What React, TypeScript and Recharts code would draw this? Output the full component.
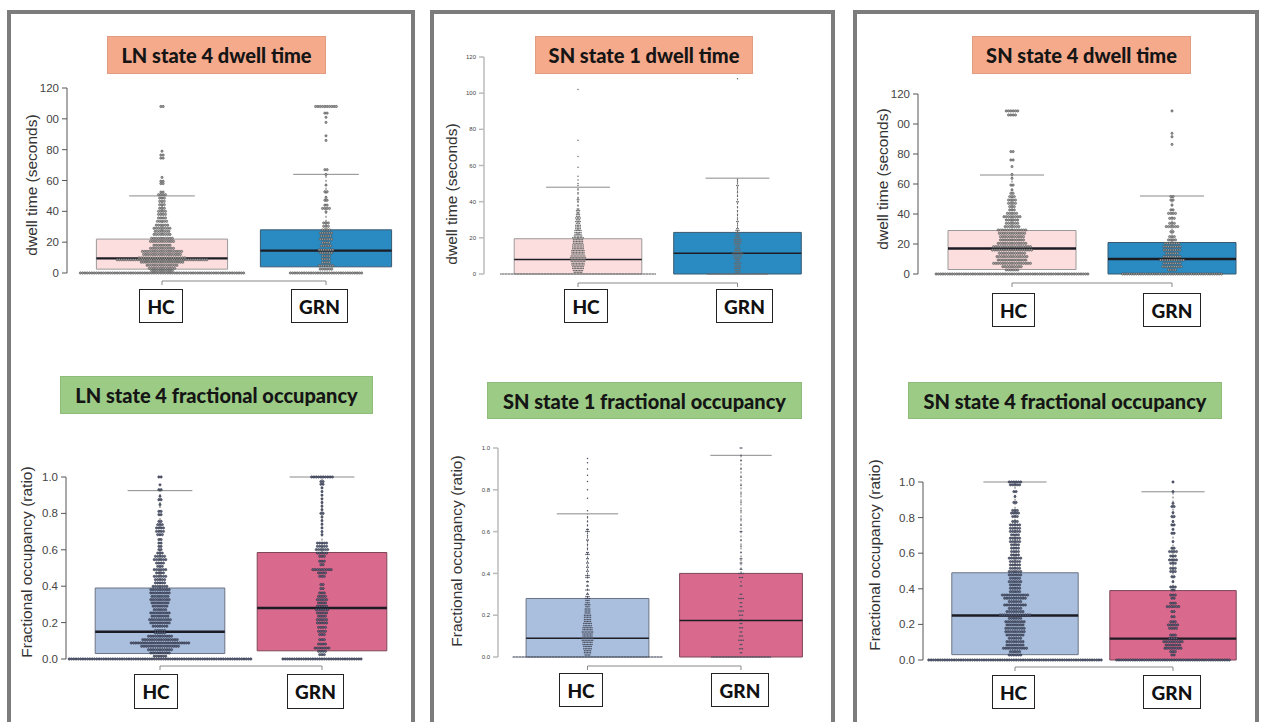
import React from 'react';
import { ComposedChart, Scatter, XAxis, YAxis, ReferenceArea, ReferenceLine } from 'recharts';

type Row = [number, number]; // [value, number of subjects at that value]

// ---------------- categories & ticks ----------------
const groups = ['HC', 'GRN'];
const dwellTicks = [0, 20, 40, 60, 80, 100, 120];
const dwellTickLabelsClipped = ['0', '20', '40', '60', '80', '00', '120'];
const dwellTickLabelsFull = ['0', '20', '40', '60', '80', '100', '120'];
const foTicks = [0, 0.2, 0.4, 0.6, 0.8, 1.0];
const foTickLabels = ['0.0', '0.2', '0.4', '0.6', '0.8', '1.0'];

// ---------------- box statistics: [q1, median, q3, upper whisker] ----------------
const lnDwellBoxHC = [2.5, 9.5, 22, 50];
const lnDwellBoxGRN = [4, 14.5, 28, 64];
const lnFoBoxHC = [0.03, 0.15, 0.39, 0.925];
const lnFoBoxGRN = [0.045, 0.28, 0.585, 1.0];
const sn1DwellBoxHC = [0, 8, 19.5, 48];
const sn1DwellBoxGRN = [0, 11.5, 23, 53];
const sn1FoBoxHC = [0, 0.09, 0.28, 0.685];
const sn1FoBoxGRN = [0, 0.175, 0.4, 0.965];
const sn4DwellBoxHC = [3, 17, 29, 66];
const sn4DwellBoxGRN = [0, 10, 21, 52];
const sn4FoBoxHC = [0.03, 0.25, 0.49, 1.0];
const sn4FoBoxGRN = [0, 0.12, 0.39, 0.945];

// ---------------- observations (value, count) ----------------
const lnDwellHC: Row[] = [
  [0, 72], [1.5, 10], [3, 12], [5, 14], [7, 19], [8.6, 40], [9.8, 21], [12, 17], [14, 18], [16, 11],
  [18, 8], [20.5, 11], [22.5, 10], [25, 8], [27, 7], [29, 8], [31, 6], [33.5, 5], [35.7, 4], [38, 4],
  [40, 4], [42, 3], [44.3, 3], [46.5, 3], [48.6, 3], [50.8, 4], [52.5, 2], [58, 2], [59.5, 2], [62, 1],
  [74.5, 2], [76.5, 2], [79, 1], [108, 2],
];
const lnDwellGRN: Row[] = [
  [0, 32], [2.5, 6], [4.7, 7], [6.8, 4], [9, 4], [11, 4], [13, 6], [15, 7], [17.6, 5], [19.7, 4],
  [21.9, 6], [24, 5], [26, 6], [28, 4], [30.3, 3], [32.5, 3], [39.7, 1], [41.9, 4], [44, 2], [47.2, 2],
  [49, 1], [52.7, 2], [57, 1], [63.9, 1], [67, 2], [86, 1], [89, 1], [97.7, 1], [101, 1], [103.7, 2],
  [108, 10],
];
const lnFoHC: Row[] = [
  [0, 80], [0.015, 6], [0.033, 9], [0.051, 11], [0.07, 17], [0.088, 26], [0.106, 16], [0.125, 11],
  [0.143, 5], [0.156, 5], [0.18, 7], [0.198, 9], [0.216, 10], [0.235, 8], [0.253, 9], [0.271, 6],
  [0.29, 7], [0.308, 8], [0.326, 9], [0.344, 8], [0.363, 9], [0.381, 9], [0.399, 7], [0.418, 5],
  [0.436, 5], [0.454, 6], [0.473, 4], [0.491, 6], [0.509, 3], [0.527, 4], [0.546, 6], [0.564, 5],
  [0.582, 3], [0.601, 2], [0.619, 2], [0.637, 2], [0.656, 2], [0.683, 3], [0.701, 4], [0.72, 4],
  [0.738, 3], [0.756, 2], [0.793, 2], [0.811, 2], [0.848, 1], [0.875, 2], [0.894, 1], [0.93, 2],
  [0.957, 1], [1.0, 2],
];
const lnFoGRN: Row[] = [
  [0, 35], [0.024, 3], [0.042, 4], [0.06, 7], [0.082, 4], [0.106, 3], [0.134, 3], [0.152, 4],
  [0.174, 4], [0.198, 5], [0.216, 5], [0.235, 4], [0.253, 5], [0.271, 6], [0.29, 5], [0.308, 4],
  [0.326, 5], [0.344, 4], [0.363, 3], [0.387, 2], [0.409, 2], [0.454, 3], [0.473, 4], [0.491, 9],
  [0.518, 2], [0.537, 3], [0.564, 3], [0.582, 5], [0.601, 6], [0.619, 5], [0.637, 5], [0.683, 1],
  [0.7, 1], [0.72, 1], [0.74, 1], [0.76, 1], [0.78, 1], [0.8, 2], [0.82, 1], [0.84, 1], [0.86, 1],
  [0.88, 1], [0.9, 1], [0.92, 1], [0.94, 1], [0.96, 2], [0.975, 2], [1.0, 10],
];
const sn1DwellHC: Row[] = [
  [0, 104], [1, 6], [2, 7], [3, 8], [4, 8], [5, 9], [6, 9], [7, 10], [8, 10], [9, 11], [10, 10],
  [11, 9], [12, 9], [13, 9], [14, 8], [15, 8], [16, 8], [17, 7], [18, 7], [19, 7], [20, 8], [21, 6],
  [22, 5], [23, 5], [24, 5], [25, 4], [26, 4], [27, 4], [28, 3], [29, 4], [30, 3], [31, 4], [32, 3],
  [33, 3], [34, 2], [35, 3], [36, 2], [38, 1], [40, 1], [41, 2], [42, 1], [45, 1], [47, 1], [49, 1],
  [50, 1], [52, 1], [54, 1], [59, 1], [65, 1], [74, 1], [102, 1],
];
const sn1DwellGRN: Row[] = [
  [0, 41], [1, 3], [2, 4], [3, 4], [4, 5], [5, 4], [6, 5], [7, 3], [8, 4], [9, 5], [10, 6], [11, 8],
  [12, 6], [13, 4], [14, 4], [15, 3], [16, 4], [17, 5], [18, 5], [19, 6], [20, 4], [21, 3], [22, 3],
  [23, 2], [24, 3], [25, 2], [27, 1], [29, 2], [31, 1], [33, 1], [35, 1], [37, 1], [40, 2], [43, 1],
  [45, 1], [47, 1], [49, 2], [51, 1], [52, 1], [108, 1],
];
const sn1FoHC: Row[] = [
  [0, 100], [0.01, 4], [0.02, 5], [0.03, 5], [0.04, 6], [0.05, 6], [0.06, 7], [0.07, 7], [0.08, 8],
  [0.09, 8], [0.1, 7], [0.11, 7], [0.12, 8], [0.13, 7], [0.14, 7], [0.15, 6], [0.16, 6], [0.17, 5],
  [0.18, 5], [0.19, 5], [0.2, 5], [0.21, 4], [0.22, 4], [0.23, 4], [0.24, 3], [0.25, 4], [0.26, 3],
  [0.27, 3], [0.28, 4], [0.29, 3], [0.3, 2], [0.32, 3], [0.34, 2], [0.36, 2], [0.38, 3], [0.39, 3],
  [0.41, 2], [0.43, 2], [0.45, 2], [0.47, 2], [0.49, 3], [0.5, 2], [0.52, 1], [0.54, 1], [0.56, 2],
  [0.58, 1], [0.6, 3], [0.61, 2], [0.63, 1], [0.65, 1], [0.67, 1], [0.7, 1], [0.76, 1], [0.8, 1],
  [0.84, 1], [0.87, 1], [0.9, 1], [0.93, 1], [0.95, 1],
];
const sn1FoGRN: Row[] = [
  [0, 40], [0.02, 2], [0.04, 3], [0.06, 2], [0.08, 4], [0.1, 3], [0.12, 2], [0.14, 3], [0.16, 2],
  [0.18, 2], [0.2, 3], [0.22, 4], [0.24, 2], [0.26, 2], [0.28, 4], [0.3, 2], [0.34, 2], [0.36, 1],
  [0.38, 3], [0.4, 4], [0.42, 2], [0.45, 2], [0.47, 2], [0.5, 1], [0.53, 1], [0.56, 1], [0.6, 2],
  [0.63, 1], [0.66, 1], [0.7, 1], [0.74, 1], [0.78, 1], [0.82, 1], [0.86, 1], [0.9, 1], [0.94, 1],
  [0.965, 1], [1.0, 2],
];
const sn4DwellHC: Row[] = [
  [0, 67], [2.7, 6], [4.9, 9], [7.1, 17], [9.3, 13], [11.6, 14], [13.8, 12], [16, 18], [18.2, 17],
  [20.4, 13], [22.7, 11], [24.9, 11], [27.1, 12], [29.3, 13], [31.6, 7], [33.8, 6], [36, 6], [38.2, 8],
  [40.4, 5], [42.7, 3], [44.9, 3], [47.1, 4], [49.3, 4], [51.6, 3], [53.8, 2], [56, 1], [59.3, 2],
  [63.8, 1], [66.4, 1], [71.6, 1], [76, 2], [81.6, 2], [106, 4], [108.7, 6],
];
const sn4DwellGRN: Row[] = [
  [0, 44], [2.7, 4], [4.9, 9], [7.1, 8], [9.3, 11], [11.6, 8], [13.8, 6], [16, 8], [18.2, 8], [20.4, 7],
  [22.7, 4], [24.9, 3], [28.2, 2], [31.6, 6], [33.8, 3], [37.1, 3], [40.4, 4], [42.7, 2], [46, 1],
  [49.3, 2], [51.6, 2], [86.4, 1], [91.5, 1], [93.8, 1], [108.7, 1],
];
const sn4FoHC: Row[] = [
  [0, 76], [0.028, 6], [0.047, 5], [0.066, 11], [0.084, 8], [0.103, 8], [0.122, 6], [0.14, 8],
  [0.159, 9], [0.178, 9], [0.197, 8], [0.215, 9], [0.234, 6], [0.253, 14], [0.272, 8], [0.29, 6],
  [0.309, 10], [0.328, 6], [0.347, 10], [0.365, 12], [0.384, 5], [0.403, 5], [0.422, 5], [0.44, 6],
  [0.459, 5], [0.478, 6], [0.497, 6], [0.515, 5], [0.534, 5], [0.553, 5], [0.572, 6], [0.59, 4],
  [0.609, 4], [0.628, 4], [0.647, 4], [0.665, 5], [0.684, 5], [0.703, 4], [0.722, 5], [0.74, 5],
  [0.759, 5], [0.778, 3], [0.806, 3], [0.825, 4], [0.84, 3], [0.885, 2], [0.918, 1], [0.946, 2],
  [0.984, 5], [1.0, 6],
];
const sn4FoGRN: Row[] = [
  [0, 50], [0.028, 2], [0.047, 3], [0.066, 8], [0.084, 7], [0.103, 9], [0.122, 4], [0.14, 3],
  [0.178, 4], [0.197, 5], [0.215, 3], [0.243, 2], [0.272, 2], [0.3, 6], [0.319, 3], [0.347, 2],
  [0.365, 3], [0.393, 2], [0.41, 3], [0.44, 1], [0.468, 2], [0.497, 3], [0.515, 3], [0.543, 3],
  [0.562, 4], [0.584, 3], [0.609, 4], [0.628, 2], [0.665, 1], [0.712, 2], [0.734, 1], [0.759, 2],
  [0.778, 1], [0.806, 2], [0.828, 1], [0.862, 2], [0.88, 1], [0.946, 1], [1.0, 1],
];

// ---------------- titles ----------------
const titles = [
  'LN state 4 dwell time',
  'LN state 4 fractional occupancy',
  'SN state 1 dwell time',
  'SN state 1 fractional occupancy',
  'SN state 4 dwell time',
  'SN state 4 fractional occupancy',
];
const dwellLabel = 'dwell time (seconds)';
const foLabel = 'Fractional occupancy (ratio)';

// ---------------- layout (pixels) ----------------
const FONT_AX = '"Liberation Sans", Arial, Helvetica, sans-serif';
const FONT_TTL = 'Lato, "Open Sans", sans-serif';

const dwellFill = ['#FDDEDE', '#2A8BC3'];
const dwellStroke = ['#9a9a9a', '#3b5a70'];
const foFill = ['#AABFDD', '#DA6A8D'];
const foStroke = ['#6a7384', '#7d4658'];

const panels = [
  { left: 7, width: 408 },
  { left: 430, width: 405 },
  { left: 853, width: 406 },
];

const charts = [
  {
    title: titles[0], tBox: [107, 36, 219, 38], tColor: '#F5AA8C', yLabel: dwellLabel, yl: [32, 185],
    axisX: 67, yTop: 88, yBottom: 273, c1: 162, c2: 326, plotRight: 405, yMax: 120,
    ticks: dwellTicks, labels: dwellTickLabelsClipped, tickFont: 11.5, axisColor: '#555', axisW: 1,
    bracketY: 281, spacing: 2.3, r: 1.15, dotFill: '#a3a3a3', dotStroke: '#3a3a3a', medW: 2.4,
    fills: dwellFill, strokes: dwellStroke, boxes: [lnDwellBoxHC, lnDwellBoxGRN], rows: [lnDwellHC, lnDwellGRN],
    cat: [[139, 289, 44, 34], [291, 289, 57, 34]],
  },
  {
    title: titles[1], tBox: [60, 376, 313, 38], tColor: '#9CCB86', yLabel: foLabel, yl: [27, 562],
    axisX: 66, yTop: 477, yBottom: 659, c1: 160, c2: 322, plotRight: 405, yMax: 1,
    ticks: foTicks, labels: foTickLabels, tickFont: 11.5, axisColor: '#555', axisW: 1,
    bracketY: 666, spacing: 2.3, r: 1.15, dotFill: '#5f6882', dotStroke: '#1e2332', medW: 2.4,
    fills: foFill, strokes: foStroke, boxes: [lnFoBoxHC, lnFoBoxGRN], rows: [lnFoHC, lnFoGRN],
    cat: [[134, 674, 44, 35], [287, 674, 57, 35]],
  },
  {
    title: titles[2], tBox: [535, 36, 218, 38], tColor: '#F5AA8C', yLabel: dwellLabel, yl: [452, 194],
    axisX: 484, yTop: 57, yBottom: 274, c1: 578, c2: 737.5, plotRight: 825, yMax: 120,
    ticks: dwellTicks, labels: dwellTickLabelsFull, tickFont: 6, axisColor: '#bbb', axisW: 1.5,
    bracketY: 283, spacing: 1.5, r: 0.75, dotFill: '#6a6a6a', dotStroke: 'none', medW: 1.6,
    fills: dwellFill, strokes: dwellStroke, boxes: [sn1DwellBoxHC, sn1DwellBoxGRN], rows: [sn1DwellHC, sn1DwellGRN],
    cat: [[564, 289, 44, 34], [716, 289, 57, 34]],
  },
  {
    title: titles[3], tBox: [487, 382, 315, 37], tColor: '#9CCB86', yLabel: foLabel, yl: [457, 551],
    axisX: 498, yTop: 448, yBottom: 657, c1: 587.5, c2: 741, plotRight: 825, yMax: 1,
    ticks: foTicks, labels: foTickLabels, tickFont: 6, axisColor: '#bbb', axisW: 1.5,
    bracketY: 666, spacing: 1.5, r: 0.75, dotFill: '#4a4f60', dotStroke: 'none', medW: 1.6,
    fills: foFill, strokes: foStroke, boxes: [sn1FoBoxHC, sn1FoBoxGRN], rows: [sn1FoHC, sn1FoGRN],
    cat: [[559, 673, 44, 34], [711, 673, 58, 34]],
  },
  {
    title: titles[4], tBox: [972, 36, 219, 38], tColor: '#F5AA8C', yLabel: dwellLabel, yl: [883, 179],
    axisX: 918, yTop: 94, yBottom: 274, c1: 1012, c2: 1172, plotRight: 1250, yMax: 120,
    ticks: dwellTicks, labels: dwellTickLabelsClipped, tickFont: 11.5, axisColor: '#555', axisW: 1,
    bracketY: 283, spacing: 2.3, r: 1.15, dotFill: '#a3a3a3', dotStroke: '#3a3a3a', medW: 2.4,
    fills: dwellFill, strokes: dwellStroke, boxes: [sn4DwellBoxHC, sn4DwellBoxGRN], rows: [sn4DwellHC, sn4DwellGRN],
    cat: [[992, 293, 43, 34], [1143, 293, 58, 34]],
  },
  {
    title: titles[5], tBox: [908, 382, 314, 37], tColor: '#9CCB86', yLabel: foLabel, yl: [875, 555],
    axisX: 923, yTop: 482, yBottom: 660, c1: 1015, c2: 1173, plotRight: 1250, yMax: 1,
    ticks: foTicks, labels: foTickLabels, tickFont: 11.5, axisColor: '#555', axisW: 1,
    bracketY: 667, spacing: 2.3, r: 1.15, dotFill: '#5f6882', dotStroke: '#1e2332', medW: 2.4,
    fills: foFill, strokes: foStroke, boxes: [sn4FoBoxHC, sn4FoBoxGRN], rows: [sn4FoHC, sn4FoGRN],
    cat: [[992, 675, 43, 34], [1143, 675, 58, 34]],
  },
];

// beeswarm-like layout: each value row is spread horizontally around the group centre
function swarm(rows: Row[], center: number, step: number) {
  const pts: { x: number; y: number }[] = [];
  rows.forEach(([v, n]) => {
    for (let i = 0; i < n; i++) pts.push({ x: center + (i - (n - 1) / 2) * step, y: v });
  });
  return pts;
}

const Y_W = 50;
const M_TOP = 10;
const M_BOT = 22;
const M_RIGHT = 6;

function BoxSwarm({ cfg }: { cfg: any }) {
  const ppuX = cfg.c2 - cfg.c1;
  const xMin = 1 - (cfg.c1 - cfg.axisX) / ppuX;
  const xMax = 2 + (cfg.plotRight - cfg.c2) / ppuX;
  const plotH = cfg.yBottom - cfg.yTop;
  const ppuY = plotH / cfg.yMax;
  const yb = -(cfg.bracketY - cfg.yBottom) / ppuY;
  const yb2 = -(cfg.bracketY + 4 - cfg.yBottom) / ppuY;
  const step = cfg.spacing / ppuX;
  const width = Y_W + (cfg.plotRight - cfg.axisX) + M_RIGHT;
  const height = M_TOP + plotH + M_BOT;
  const fmt = (v: number) => cfg.labels[cfg.ticks.indexOf(v)] ?? '';
  const dot = (p: any) => (
    <circle cx={p.cx} cy={p.cy} r={cfg.r} fill={cfg.dotFill} stroke={cfg.dotStroke} strokeWidth={0.5} />
  );
  return (
    <div style={{ position: 'absolute', left: cfg.axisX - Y_W, top: cfg.yTop - M_TOP }}>
      <ComposedChart width={width} height={height} margin={{ top: M_TOP, right: M_RIGHT, bottom: M_BOT, left: 0 }}>
        <XAxis type="number" dataKey="x" domain={[xMin, xMax]} hide />
        <YAxis
          type="number" dataKey="y" domain={[0, cfg.yMax]} ticks={cfg.ticks} interval={0} width={Y_W}
          tickFormatter={fmt} tickSize={5} tickMargin={3}
          axisLine={{ stroke: cfg.axisColor, strokeWidth: cfg.axisW }}
          tickLine={{ stroke: cfg.axisColor, strokeWidth: cfg.axisW }}
          tick={{ fill: '#444', fontSize: cfg.tickFont, fontFamily: FONT_AX }}
        />
        {groups.map((g, gi) => {
          const c = gi + 1;
          const [q1, med, q3, wh] = cfg.boxes[gi];
          return (
            <ReferenceArea key={'box' + g} x1={c - 0.4} x2={c + 0.4} y1={q1} y2={q3}
              fill={cfg.fills[gi]} fillOpacity={1} stroke={cfg.strokes[gi]} strokeWidth={1} ifOverflow="visible" />
          );
        })}
        {groups.map((g, gi) => {
          const c = gi + 1;
          const [q1, med, q3, wh] = cfg.boxes[gi];
          return (
            <ReferenceLine key={'wh' + g} segment={[{ x: c, y: q3 }, { x: c, y: wh }]}
              stroke="#444" strokeWidth={0.8} strokeDasharray="2 2" ifOverflow="visible" />
          );
        })}
        {groups.map((g, gi) => {
          const c = gi + 1;
          const [q1, med, q3, wh] = cfg.boxes[gi];
          return (
            <ReferenceLine key={'cap' + g} segment={[{ x: c - 0.2, y: wh }, { x: c + 0.2, y: wh }]}
              stroke="#8a8a8a" strokeWidth={1} ifOverflow="visible" />
          );
        })}
        {groups.map((g, gi) => {
          const c = gi + 1;
          const [q1, med, q3, wh] = cfg.boxes[gi];
          return (
            <ReferenceLine key={'med' + g} segment={[{ x: c - 0.4, y: med }, { x: c + 0.4, y: med }]}
              stroke="#1c1c24" strokeWidth={cfg.medW} ifOverflow="visible" />
          );
        })}
        <ReferenceLine segment={[{ x: 1, y: yb }, { x: 2, y: yb }]} stroke="#888" strokeWidth={1} ifOverflow="visible" />
        <ReferenceLine segment={[{ x: 1, y: yb }, { x: 1, y: yb2 }]} stroke="#888" strokeWidth={1} ifOverflow="visible" />
        <ReferenceLine segment={[{ x: 2, y: yb }, { x: 2, y: yb2 }]} stroke="#888" strokeWidth={1} ifOverflow="visible" />
        {groups.map((g, gi) => (
          <Scatter key={'sw' + g} data={swarm(cfg.rows[gi], gi + 1, step)} shape={dot} isAnimationActive={false} />
        ))}
      </ComposedChart>
    </div>
  );
}

function Overlays({ cfg }: { cfg: any }) {
  const [tx, ty, tw, th] = cfg.tBox;
  return (
    <>
      <div
        style={{
          position: 'absolute', left: tx, top: ty, width: tw, height: th, background: cfg.tColor,
          boxSizing: 'border-box', border: '1px solid rgba(0,0,0,0.08)', display: 'flex',
          alignItems: 'center', justifyContent: 'center', fontFamily: FONT_TTL, fontWeight: 900,
          fontSize: 20, color: '#151515', whiteSpace: 'nowrap',
        }}
      >
        {cfg.title}
      </div>
      <div
        style={{
          position: 'absolute', left: cfg.yl[0], top: cfg.yl[1], transform: 'translate(-50%, -50%) rotate(-90deg)',
          fontFamily: FONT_AX, fontSize: 15.5, color: '#333', whiteSpace: 'nowrap',
        }}
      >
        {cfg.yLabel}
      </div>
      {groups.map((g, gi) => {
        const [x, y, w, h] = cfg.cat[gi];
        return (
          <div
            key={g}
            style={{
              position: 'absolute', left: x, top: y, width: w, height: h, boxSizing: 'border-box',
              border: '1.5px solid #222', background: '#fff', display: 'flex', alignItems: 'center',
              justifyContent: 'center', fontFamily: FONT_TTL, fontWeight: 900, fontSize: 19, color: '#111',
            }}
          >
            {g}
          </div>
        );
      })}
    </>
  );
}

export default function App() {
  return (
    <div style={{ position: 'absolute', left: 0, top: 0, width: 1261, height: 722, overflow: 'hidden', background: '#fff' }}>
      {panels.map((p, i) => (
        <div key={i} style={{ position: 'absolute', left: p.left, top: 10, width: p.width, height: 740, boxSizing: 'border-box', border: '4px solid #7c7c7c' }} />
      ))}
      {charts.map((c, i) => (
        <BoxSwarm key={'c' + i} cfg={c} />
      ))}
      {charts.map((c, i) => (
        <Overlays key={'o' + i} cfg={c} />
      ))}
    </div>
  );
}
